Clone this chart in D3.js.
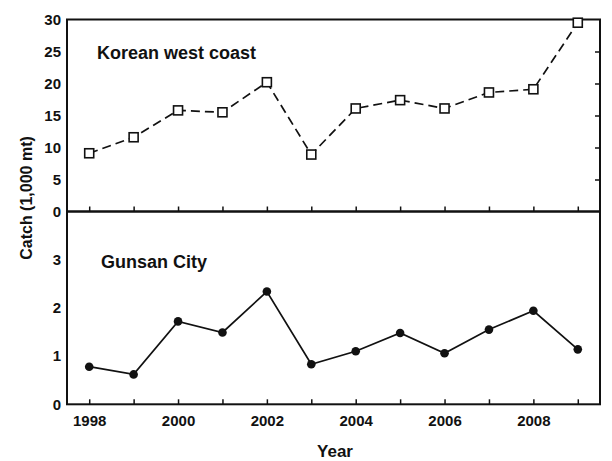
<!DOCTYPE html>
<html>
<head>
<meta charset="utf-8">
<script src="https://cdn.jsdelivr.net/npm/d3@7"></script>
<style>
  html, body { margin: 0; padding: 0; background: #fff; }
  svg { display: block; font-family: "Liberation Sans", Arial, sans-serif; }
</style>
</head>
<body>
<svg id="chart" width="612" height="461"></svg>
<script>
// ---- Data ----
const years = [1998, 1999, 2000, 2001, 2002, 2003, 2004, 2005, 2006, 2007, 2008, 2009];
const westCoast = [9.1, 11.6, 15.8, 15.5, 20.2, 8.9, 16.1, 17.4, 16.1, 18.6, 19.1, 29.5];
const gunsan = [0.78, 0.62, 1.72, 1.49, 2.34, 0.83, 1.10, 1.48, 1.06, 1.55, 1.94, 1.14];
const topTicks = [0, 5, 10, 15, 20, 25, 30];
const bottomTicks = [0, 1, 2, 3];
const yearLabels = [1998, 2000, 2002, 2004, 2006, 2008];
const topTitle = "Korean west coast";
const bottomTitle = "Gunsan City";
const yTitle = "Catch (1,000 mt)";
const xTitle = "Year";

// ---- Layout ----
const L = 67, R = 600, T = 19.5, M = 211.5, B = 404.3;
const svg = d3.select("#chart");

const x = d3.scaleLinear().domain([1997.5, 2009.5]).range([L, R]);
const yTop = d3.scaleLinear().domain([0, 30]).range([M, T]);
const yBot = d3.scaleLinear().domain([0, 4]).range([B, M]);

const ink = "#111";

function styleAxis(g) {
  g.select(".domain").remove();
  g.selectAll("line").attr("stroke", ink).attr("stroke-width", 1.5);
  g.selectAll("text").attr("fill", ink).attr("font-size", 15).attr("font-weight", "bold")
    .attr("font-family", '"Liberation Sans", Arial, sans-serif');
}

// Left axes
svg.append("g").attr("transform", `translate(${L},0)`)
  .call(d3.axisLeft(yTop).tickValues(topTicks).tickSize(0).tickPadding(6).tickFormat(d3.format("d")))
  .call(styleAxis);
svg.append("g").attr("transform", `translate(${L},0)`)
  .call(d3.axisLeft(yBot).tickValues(bottomTicks).tickSize(0).tickPadding(6).tickFormat(d3.format("d")))
  .call(styleAxis);

// Right ticks top panel (inward)
svg.append("g").attr("transform", `translate(${R},0)`)
  .call(d3.axisRight(yTop).tickValues([5, 10, 15, 20, 25]).tickSize(-5).tickFormat(""))
  .call(styleAxis);

// Year ticks (inward) on top panel bottom edge
svg.append("g").attr("transform", `translate(0,${M})`)
  .call(d3.axisBottom(x).tickValues(years).tickSize(-5).tickFormat(""))
  .call(styleAxis);

// Year ticks + labels on bottom panel
svg.append("g").attr("transform", `translate(0,${B})`)
  .call(d3.axisBottom(x).tickValues(years).tickSizeInner(-5).tickSizeOuter(0).tickPadding(11)
    .tickFormat(d => yearLabels.includes(d) ? String(d) : ""))
  .call(styleAxis);

// Frames
svg.append("rect").attr("x", L).attr("y", T).attr("width", R - L).attr("height", M - T)
  .attr("fill", "none").attr("stroke", ink).attr("stroke-width", 2);
svg.append("rect").attr("x", L).attr("y", M).attr("width", R - L).attr("height", B - M)
  .attr("fill", "none").attr("stroke", ink).attr("stroke-width", 2);

// Top series: dashed line with open squares
const topData = years.map((yr, i) => ({ yr, v: westCoast[i] }));
svg.append("path").datum(topData)
  .attr("fill", "none").attr("stroke", ink).attr("stroke-width", 1.7)
  .attr("stroke-dasharray", "9,5")
  .attr("d", d3.line().x(d => x(d.yr)).y(d => yTop(d.v)));
svg.append("g").selectAll("rect").data(topData).join("rect")
  .attr("x", d => x(d.yr) - 4.5).attr("y", d => yTop(d.v) - 4.5)
  .attr("width", 9).attr("height", 9)
  .attr("fill", "#fff").attr("stroke", ink).attr("stroke-width", 1.6);

// Bottom series: solid line with filled circles
const botData = years.map((yr, i) => ({ yr, v: gunsan[i] }));
svg.append("path").datum(botData)
  .attr("fill", "none").attr("stroke", ink).attr("stroke-width", 1.7)
  .attr("d", d3.line().x(d => x(d.yr)).y(d => yBot(d.v)));
svg.append("g").selectAll("circle").data(botData).join("circle")
  .attr("cx", d => x(d.yr)).attr("cy", d => yBot(d.v)).attr("r", 4.3)
  .attr("fill", ink);

// Panel titles
svg.append("text").attr("x", 97).attr("y", 59).attr("font-size", 18).attr("font-weight", "bold")
  .attr("fill", ink).text(topTitle);
svg.append("text").attr("x", 101).attr("y", 268).attr("font-size", 18).attr("font-weight", "bold")
  .attr("fill", ink).text(bottomTitle);

// Axis titles
svg.append("text").attr("transform", "translate(32,198) rotate(-90)")
  .attr("text-anchor", "middle").attr("font-size", 16).attr("font-weight", "bold")
  .attr("fill", ink).text(yTitle);
svg.append("text").attr("x", 335).attr("y", 457).attr("text-anchor", "middle")
  .attr("font-size", 17).attr("font-weight", "bold").attr("fill", ink).text(xTitle);
</script>
</body>
</html>
